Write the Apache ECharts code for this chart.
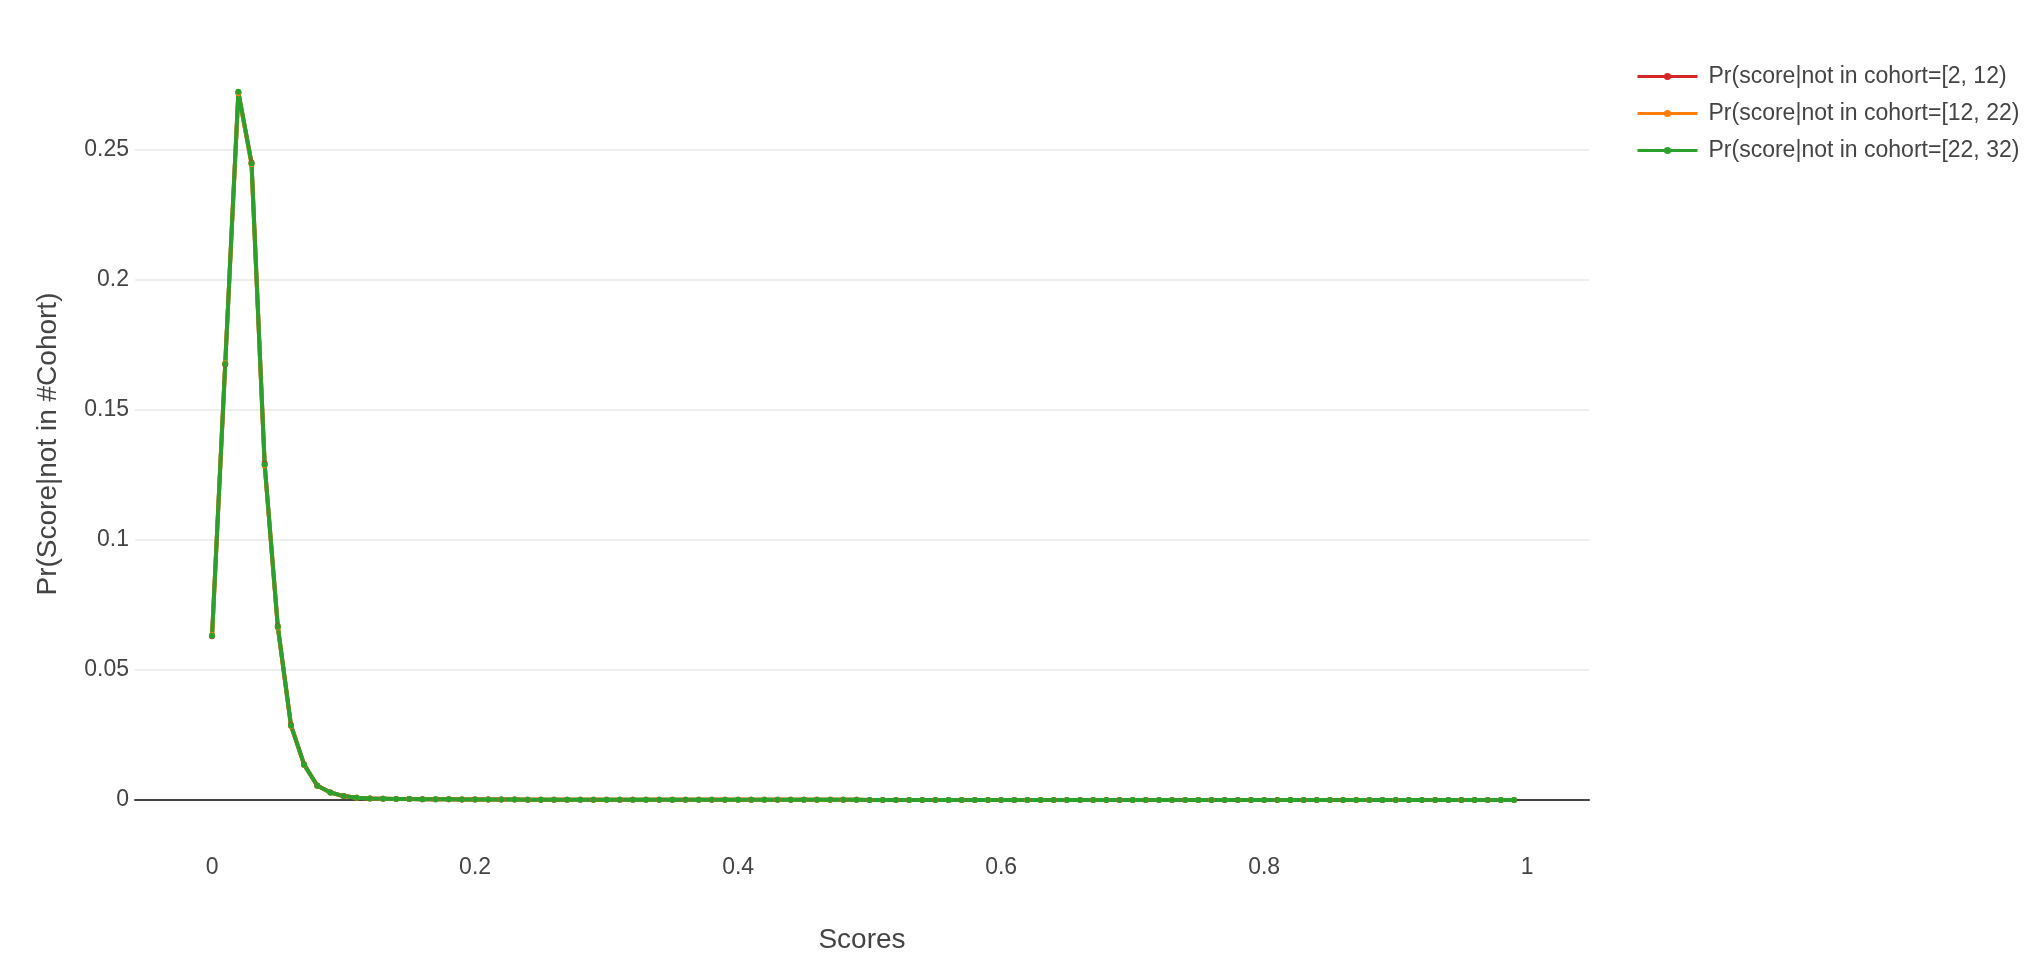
<!DOCTYPE html>
<html>
<head>
<meta charset="utf-8">
<title>Pr(Score|not in #Cohort)</title>
<script src="https://cdn.jsdelivr.net/npm/echarts@6/dist/echarts.min.js"></script>
<style>
  html, body { margin: 0; padding: 0; background: #fff; }
  #chart { width: 2042px; height: 980px; }
</style>
</head>
<body>
<div id="chart"></div>
<script>
// x values (scores), 0 .. 0.99
var scores = [
  0.00, 0.01, 0.02, 0.03, 0.04, 0.05, 0.06, 0.07, 0.08, 0.09,
  0.10, 0.11, 0.12, 0.13, 0.14, 0.15, 0.16, 0.17, 0.18, 0.19,
  0.20, 0.21, 0.22, 0.23, 0.24, 0.25, 0.26, 0.27, 0.28, 0.29,
  0.30, 0.31, 0.32, 0.33, 0.34, 0.35, 0.36, 0.37, 0.38, 0.39,
  0.40, 0.41, 0.42, 0.43, 0.44, 0.45, 0.46, 0.47, 0.48, 0.49,
  0.50, 0.51, 0.52, 0.53, 0.54, 0.55, 0.56, 0.57, 0.58, 0.59,
  0.60, 0.61, 0.62, 0.63, 0.64, 0.65, 0.66, 0.67, 0.68, 0.69,
  0.70, 0.71, 0.72, 0.73, 0.74, 0.75, 0.76, 0.77, 0.78, 0.79,
  0.80, 0.81, 0.82, 0.83, 0.84, 0.85, 0.86, 0.87, 0.88, 0.89,
  0.90, 0.91, 0.92, 0.93, 0.94, 0.95, 0.96, 0.97, 0.98, 0.99
];

// Pr(score|not in cohort=[2, 12)
var cohort_2_12 = [
  0.0630, 0.1675, 0.2721, 0.2452, 0.1293, 0.0668, 0.0288, 0.0137, 0.0056, 0.0029,
  0.0015, 0.0009, 0.0006, 0.0005, 0.0004, 0.0004, 0.0003, 0.0003, 0.0003, 0.0002,
  0.0002, 0.0002, 0.0002, 0.0002, 0.0001, 0.0001, 0.0001, 0.0001, 0.0001, 0.0001,
  0.0001, 0.0001, 0.0001, 0.0001, 0.0001, 0.0001, 0.0001, 0.0001, 0.0001, 0.0001,
  0.00006, 0.00006, 0.00006, 0.00006, 0.00006, 0.00005, 0.00005, 0.00005, 0.00005, 0.00005,
  0.00003, 0.00003, 0.00003, 0.00003, 0.00003, 0.00003, 0.00003, 0.00003, 0.00003, 0.00003,
  0.00002, 0.00002, 0.00002, 0.00002, 0.00002, 0.00002, 0.00002, 0.00002, 0.00002, 0.00002,
  0.00001, 0.00001, 0.00001, 0.00001, 0.00001, 0.00001, 0.00001, 0.00001, 0.00001, 0.00001,
  0, 0, 0, 0, 0, 0, 0, 0, 0, 0,
  0, 0, 0, 0, 0, 0, 0, 0, 0, 0
];

// Pr(score|not in cohort=[12, 22)
var cohort_12_22 = [
  0.0635, 0.1680, 0.2718, 0.2445, 0.1287, 0.0663, 0.0285, 0.0135, 0.0055, 0.0029,
  0.0015, 0.0009, 0.0006, 0.0005, 0.0004, 0.0004, 0.0003, 0.0003, 0.0003, 0.0002,
  0.0002, 0.0002, 0.0002, 0.0002, 0.0001, 0.0001, 0.0001, 0.0001, 0.0001, 0.0001,
  0.0001, 0.0001, 0.0001, 0.0001, 0.0001, 0.0001, 0.0001, 0.0001, 0.0001, 0.0001,
  0.00006, 0.00006, 0.00006, 0.00006, 0.00006, 0.00005, 0.00005, 0.00005, 0.00005, 0.00005,
  0.00003, 0.00003, 0.00003, 0.00003, 0.00003, 0.00003, 0.00003, 0.00003, 0.00003, 0.00003,
  0.00002, 0.00002, 0.00002, 0.00002, 0.00002, 0.00002, 0.00002, 0.00002, 0.00002, 0.00002,
  0.00001, 0.00001, 0.00001, 0.00001, 0.00001, 0.00001, 0.00001, 0.00001, 0.00001, 0.00001,
  0, 0, 0, 0, 0, 0, 0, 0, 0, 0,
  0, 0, 0, 0, 0, 0, 0, 0, 0, 0
];

// Pr(score|not in cohort=[22, 32)
var cohort_22_32 = [
  0.0632, 0.1677, 0.2724, 0.2449, 0.1290, 0.0666, 0.0287, 0.0136, 0.0055, 0.0029,
  0.0015, 0.0009, 0.0006, 0.0005, 0.0004, 0.0004, 0.0003, 0.0003, 0.0003, 0.0002,
  0.0002, 0.0002, 0.0002, 0.0002, 0.0001, 0.0001, 0.0001, 0.0001, 0.0001, 0.0001,
  0.0001, 0.0001, 0.0001, 0.0001, 0.0001, 0.0001, 0.0001, 0.0001, 0.0001, 0.0001,
  0.00006, 0.00006, 0.00006, 0.00006, 0.00006, 0.00005, 0.00005, 0.00005, 0.00005, 0.00005,
  0.00003, 0.00003, 0.00003, 0.00003, 0.00003, 0.00003, 0.00003, 0.00003, 0.00003, 0.00003,
  0.00002, 0.00002, 0.00002, 0.00002, 0.00002, 0.00002, 0.00002, 0.00002, 0.00002, 0.00002,
  0.00001, 0.00001, 0.00001, 0.00001, 0.00001, 0.00001, 0.00001, 0.00001, 0.00001, 0.00001,
  0, 0, 0, 0, 0, 0, 0, 0, 0, 0,
  0, 0, 0, 0, 0, 0, 0, 0, 0, 0
];

var series_names = [
  'Pr(score|not in cohort=[2, 12)',
  'Pr(score|not in cohort=[12, 22)',
  'Pr(score|not in cohort=[22, 32)'
];
var series_colors = ['#d62728', '#ff7f0e', '#2ca02c'];
var x_tick_values = [0, 0.2, 0.4, 0.6, 0.8, 1];

function pairs(values)
{
  var out = [];
  for (var i = 0; i < scores.length; i++)
    out.push([scores[i], values[i]]);
  return out;
}

var font = '"Liberation Sans", Arial, Helvetica, sans-serif';
var all_values = [cohort_2_12, cohort_12_22, cohort_22_32];
var series = [];
for (var k = 0; k < all_values.length; k++) {
  series.push({
    name: series_names[k],
    type: 'line',
    data: pairs(all_values[k]),
    symbol: 'circle',
    symbolSize: 6,
    showSymbol: true,
    clip: false,
    lineStyle: { color: series_colors[k], width: 4 },
    itemStyle: { color: series_colors[k] }
  });
}

var myChart = echarts.init(document.getElementById('chart'));
var option = {
  animation: false,
  backgroundColor: '#fff',
  textStyle: { fontFamily: font, color: '#444' },
  grid: { left: 135, right: 453, top: 46, bottom: 180 },
  legend: {
    orient: 'vertical',
    left: 1631,
    top: 60,
    itemWidth: 60,
    itemHeight: 9,
    itemGap: 14,
    data: series_names,
    lineStyle: { width: 3 },
    textStyle: { fontSize: 23, color: '#444', fontFamily: font, padding: [0, 0, 0, 6] }
  },
  xAxis: {
    type: 'value',
    min: -0.0586,
    max: 1.047,
    name: 'Scores',
    nameLocation: 'middle',
    nameGap: 126,
    nameTextStyle: { fontSize: 28, color: '#444', fontFamily: font },
    axisLine: { show: true, onZero: false, lineStyle: { color: '#444', width: 2 } },
    axisTick: { show: false },
    splitLine: { show: false },
    axisLabel: {
      customValues: x_tick_values,
      margin: 56,
      fontSize: 23,
      color: '#444',
      fontFamily: font
    }
  },
  yAxis: {
    type: 'value',
    min: 0,
    max: 0.29,
    interval: 0.05,
    name: 'Pr(Score|not in #Cohort)',
    nameLocation: 'middle',
    nameGap: 73,
    nameTextStyle: { fontSize: 28, color: '#444', fontFamily: font, padding: [0, 42, 0, 0] },
    axisLine: { show: false },
    axisTick: { show: false },
    splitLine: { show: true, showMinLine: false, showMaxLine: false, lineStyle: { color: '#eee', width: 2 } },
    axisLabel: { margin: 6, fontSize: 23, color: '#444', fontFamily: font, showMaxLabel: false }
  },
  series: series
};
myChart.setOption(option);
</script>
</body>
</html>
